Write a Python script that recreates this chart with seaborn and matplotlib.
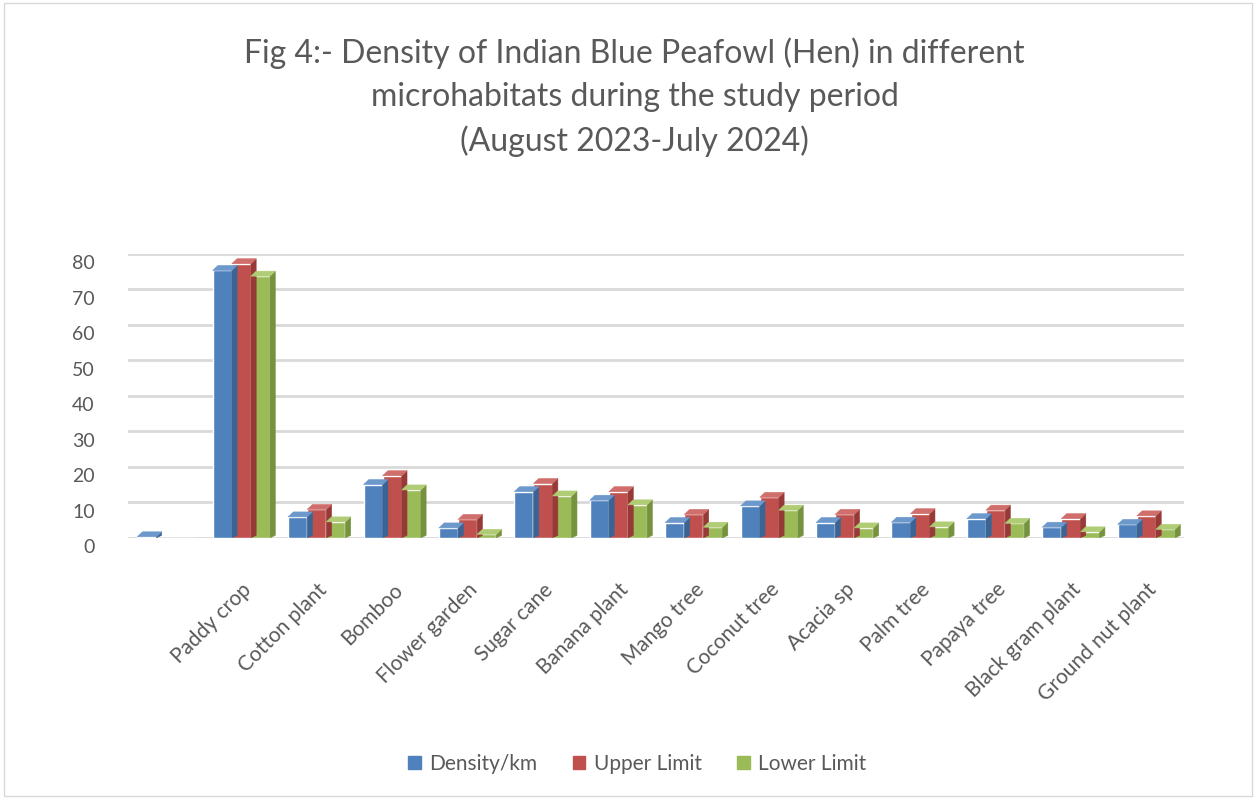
import pandas as pd
import numpy as np
import matplotlib.pyplot as plt
import seaborn as sns
from matplotlib.patches import Polygon
from matplotlib.transforms import ScaledTranslation

# data
habitats = [" ", "Paddy crop", "Cotton plant", "Bomboo", "Flower garden", "Sugar cane",
            "Banana plant", "Mango tree", "Coconut tree", "Acacia sp", "Palm tree",
            "Papaya tree", "Black gram plant", "Ground nut plant"]
density = [0.3, 75.3, 5.9, 15.0, 2.8, 13.0, 10.6, 4.3, 9.0, 4.3, 4.4, 5.4, 3.0, 3.8]
upper = [0.0, 77.2, 8.0, 17.5, 5.2, 15.3, 13.0, 6.6, 11.4, 6.6, 6.8, 7.8, 5.4, 6.2]
lower = [0.0, 73.7, 4.5, 13.5, 1.0, 11.8, 9.3, 3.0, 7.8, 2.8, 3.1, 4.1, 1.7, 2.4]
series = ["Density/km", "Upper Limit", "Lower Limit"]
yticks = [0, 10, 20, 30, 40, 50, 60, 70, 80]

colors = ["#4F81BD", "#C0504D", "#9BBB59"]
side_colors = ["#3A6494", "#973A37", "#76923F"]
top_colors = ["#6D98CC", "#D06E6B", "#B0CC74"]

df = pd.DataFrame({"habitat": habitats, series[0]: density,
                   series[1]: upper, series[2]: lower})
long_df = df.melt(id_vars="habitat", var_name="series", value_name="value")

sns.set_style("white")
plt.rcParams['font.family'] = ['Lato', 'DejaVu Sans']

fig = plt.figure(figsize=(12.57, 7.98), dpi=100)
ax = fig.add_axes([0.102, 0.326, 0.840, 0.356])

sns.barplot(data=long_df, x="habitat", y="value", hue="series",
            palette=colors, width=0.76, saturation=1, ax=ax, legend=True)

# fake the excel 3d look: top and side faces from each bar
dx, dy = 0.07, 1.4
for i, cont in enumerate(ax.containers):
    for bar in cont:
        x, w, h = bar.get_x(), bar.get_width(), bar.get_height()
        if h <= 0:
            continue
        side = Polygon([(x + w, 0), (x + w + dx, dy * 0.5), (x + w + dx, h + dy), (x + w, h)],
                       closed=True, facecolor=side_colors[i], edgecolor=side_colors[i],
                       linewidth=0.4, zorder=2)
        top = Polygon([(x, h), (x + dx, h + dy), (x + w + dx, h + dy), (x + w, h)],
                      closed=True, facecolor=top_colors[i], edgecolor=top_colors[i],
                      linewidth=0.4, zorder=2)
        ax.add_patch(side)
        ax.add_patch(top)

ax.set_ylim(0, 80)
ax.set_xlim(-0.5, len(habitats) - 0.5)
ax.set_yticks(yticks)
ax.set_yticklabels([str(t) for t in yticks], fontsize=14, color="#595959")
ax.yaxis.grid(True, color="#d9d9d9", linewidth=2)
ax.set_axisbelow(True)
ax.tick_params(axis="both", length=0)
ax.tick_params(axis="y", pad=24)
# the front wall of the excel chart sits a little lower than the back wall
for lab in ax.get_yticklabels():
    lab.set_transform(lab.get_transform() + ScaledTranslation(0, -6 / 72, fig.dpi_scale_trans))
plt.setp(ax.get_xticklabels(), rotation=45, ha="right", rotation_mode="anchor",
         fontsize=15, color="#595959")
ax.tick_params(axis="x", pad=30)
ax.set_xlabel("")
ax.set_ylabel("")
for s in ax.spines.values():
    s.set_visible(False)

ax.legend_.remove()
handles = [plt.Rectangle((0, 0), 1, 1, color=c) for c in colors]
fig.legend(handles, series, loc="center", bbox_to_anchor=(0.507, 0.043), ncol=3,
           frameon=False, fontsize=15, handlelength=0.6, handleheight=0.6,
           handletextpad=0.4, columnspacing=1.7, labelcolor="#595959")

fig.text(0.505, 0.878,
         "Fig 4:- Density of Indian Blue Peafowl (Hen) in different\n"
         "microhabitats during the study period\n(August 2023-July 2024)",
         ha="center", va="center", fontsize=23, color="#595959", linespacing=1.52)

fig.patches.append(plt.Rectangle((0.003, 0.003), 0.993, 0.993, transform=fig.transFigure,
                                 fill=False, edgecolor="#d9d9d9", linewidth=1))

fig.savefig("out.png", dpi=100)
